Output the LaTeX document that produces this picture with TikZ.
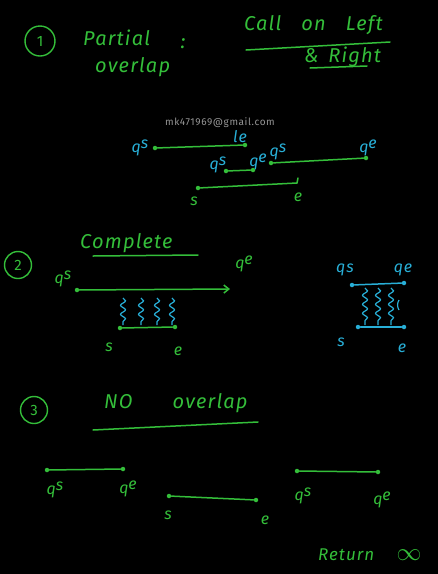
\documentclass[tikz,border=0pt]{standalone}
\usepackage{fontspec}
\setmainfont{Fira Sans}[LetterSpace=6]
\usetikzlibrary{decorations.pathmorphing,arrows.meta}
\definecolor{gr}{RGB}{52,190,58}
\definecolor{cy}{RGB}{40,175,215}
\definecolor{wm}{RGB}{150,150,150}
\tikzset{
  gtext/.style={text=gr,font=\fontsize{20}{22}\selectfont\itshape,inner sep=0pt},
  ctext/.style={text=cy,font=\fontsize{16}{18}\selectfont\itshape,inner sep=0pt},
  glbl/.style={text=gr,font=\fontsize{16}{18}\selectfont\itshape,inner sep=0pt},
  gline/.style={draw=gr,line width=1.5pt,line cap=round},
  cline/.style={draw=cy,line width=1.5pt,line cap=round},
  gdot/.style={circle,fill=gr,inner sep=0pt,minimum size=4.5pt},
  cdot/.style={circle,fill=cy,inner sep=0pt,minimum size=4.5pt},
  numcirc/.style={circle,draw=gr,line width=1.4pt,text=gr,minimum size=30pt,inner sep=0pt,font=\fontsize{15}{17}\selectfont},
  wavy/.style={cy,line width=1.2pt,decorate,decoration={snake,amplitude=2.5pt,segment length=9pt}},
}
\newcommand{\qsup}[1]{q\raisebox{4pt}{#1}}
\begin{document}
\begin{tikzpicture}[x=1pt,y=-1pt]
\fill[black] (0,0) rectangle (438,574);
\useasboundingbox (0,0) rectangle (438,574);
% ---------- Section 1
\node[numcirc] (n1) at (40,41) {1};
\node[gtext,anchor=west] (partial) at (83,38) {Partial};
\node[gtext,anchor=west] (overlap1) at (95,67) {overlap};
\node[gtext] (colon) at (183,44) {:};
\node[gtext,anchor=west] (call) at (244,25) {Call\quad on\quad Left};
\coordinate (cl1) at (246,50); \coordinate (cl2) at (390,42);
\draw[gline] (cl1) -- (cl2);
\node[gtext,anchor=west] (right) at (304,57) {\&\, Right};
\coordinate (ru1) at (310,68); \coordinate (ru2) at (367,66);
\draw[gline] (ru1) -- (ru2);
\node[text=wm,font=\fontsize{10}{12}\selectfont,inner sep=0pt] (wm) at (220,123) {mk471969@gmail.com};
% top interval
\node[ctext] (qs1) at (140,148) {\qsup{s}};
\node[ctext] (le1) at (240,137) {le};
\node[gdot] (a1) at (155,148) {};
\node[gdot] (a2) at (245,145) {};
\draw[gline] (a1) -- (a2);
% middle short interval
\node[ctext] (qs2) at (218,165) {\qsup{s}};
\node[ctext] (qe2) at (258,162) {\qsup{e}};
\node[gdot] (b1) at (226,171) {};
\node[gdot] (b2) at (253,170) {};
\draw[gline] (b1) -- (b2);
% middle long interval
\node[ctext] (qs3) at (278,152) {\qsup{s}};
\node[ctext] (qe3) at (368,148) {\qsup{e}};
\node[gdot] (c1) at (271,163) {};
\node[gdot] (c2) at (366,158) {};
\draw[gline] (c1) -- (c2);
% s-e interval
\node[gdot] (d1) at (198,188) {};
\coordinate (d2) at (297,183);
\coordinate (d3) at (298,178);
\draw[gline] (d1) -- (d2) -- (d3);
\node[glbl] (s1) at (194,201) {s};
\node[glbl] (e1) at (298,197) {e};
% ---------- Section 2
\node[numcirc,minimum size=27pt] (n2) at (18,265) {2};
\node[gtext,anchor=west] (complete) at (80,243) {Complete};
\coordinate (cu1) at (93,256); \coordinate (cu2) at (198,255);
\draw[gline] (cu1) -- (cu2);
\node[glbl] (qs4) at (63,279) {\qsup{s}};
\node[glbl] (qe4) at (244,264) {\qsup{e}};
\node[gdot] (f1) at (77,290) {};
\coordinate (f2) at (230,289);
\draw[gline,-{Straight Barb[length=5pt,width=8pt]}] (f1) -- (f2);
\foreach \i/\x in {1/123,2/141,3/157,4/172}{
  \coordinate (wt\i) at (\x,298);
  \coordinate (wb\i) at (\x,325);
  \draw[wavy] (wt\i) -- (wb\i);
}
\node[gdot] (g1) at (120,328) {};
\node[gdot] (g2) at (175,327) {};
\draw[gline] (g1) -- (g2);
\node[glbl] (s2) at (109,347) {s};
\node[glbl] (e2) at (178,351) {e};
% right cyan
\node[ctext] (qs5) at (345,270) {qs};
\node[ctext] (qe5) at (403,270) {qe};
\node[cdot] (h1) at (352,285) {};
\node[cdot] (h2) at (404,283) {};
\draw[cline] (h1) -- (h2);
\foreach \i/\x in {1/365,2/378,3/391}{
  \coordinate (vt\i) at (\x,288);
  \coordinate (vb\i) at (\x,325);
  \draw[wavy] (vt\i) -- (vb\i);
}
\coordinate (vt4) at (399,300); \coordinate (vb4) at (399,310);
\draw[cy,line width=1.2pt] (vt4) to[bend right=30] (vb4);
\node[cdot] (k1) at (358,327) {};
\node[cdot] (k2) at (404,327) {};
\draw[cline] (k1) -- (k2);
\node[ctext] (s3) at (341,342) {s};
\node[ctext] (e3) at (402,348) {e};
% ---------- Section 3
\node[numcirc,minimum size=27pt] (n3) at (34,410) {3};
\node[gtext,anchor=west] (noov) at (104,403) {NO\qquad overlap};
\coordinate (nu1) at (93,430); \coordinate (nu2) at (258,422);
\draw[gline] (nu1) -- (nu2);
% intervals
\node[gdot] (p1) at (47,470) {};
\node[gdot] (p2) at (123,469) {};
\draw[gline] (p1) -- (p2);
\node[glbl] (qs6) at (55,490) {\qsup{s}};
\node[glbl] (qe6) at (128,489) {\qsup{e}};
\node[gdot] (r1) at (169,496) {};
\node[gdot] (r2) at (256,500) {};
\draw[gline] (r1) -- (r2);
\node[glbl] (s4) at (168,515) {s};
\node[glbl] (e4) at (265,520) {e};
\node[gdot] (t1) at (297,471) {};
\node[gdot] (t2) at (378,472) {};
\draw[gline] (t1) -- (t2);
\node[glbl] (qs7) at (303,496) {\qsup{s}};
\node[glbl] (qe7) at (382,500) {\qsup{e}};
\node[text=gr,font=\fontsize{17}{18}\selectfont\itshape,inner sep=0pt,anchor=west] (ret) at (318,555) {Return \quad{\fontsize{24}{24}\selectfont$\infty$}};
\end{tikzpicture}
\end{document}
